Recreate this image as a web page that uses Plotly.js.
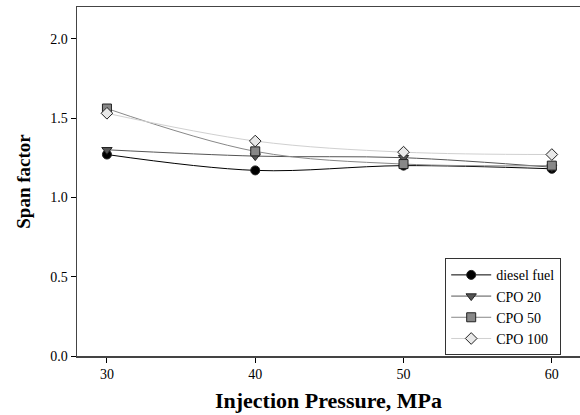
<!DOCTYPE html>
<html><head><meta charset="utf-8">
<script src="https://cdn.plot.ly/plotly-3.0.1.min.js"></script>
<style>html,body{margin:0;padding:0;background:#fff;overflow:hidden}#chart{width:580px;height:415px}</style>
</head><body><div id="chart"></div>
<script>
const pressure = [30, 40, 50, 60];
const dieselFuel = [1.27, 1.17, 1.20, 1.18];
const cpo20 = [1.30, 1.26, 1.25, 1.19];
const cpo50 = [1.56, 1.29, 1.21, 1.20];
const cpo100 = [1.53, 1.355, 1.285, 1.27];
const seriesNames = ['diesel fuel', 'CPO 20', 'CPO 50', 'CPO 100'];

const styles = [
  {line:'#000000', marker:'circle', fill:'#000000'},
  {line:'#555555', marker:'triangle-down', fill:'#555555'},
  {line:'#888888', marker:'square', fill:'#888888'},
  {line:'#d0d0d0', marker:'diamond', fill:'#e8e8e8'}
];
const values = [dieselFuel, cpo20, cpo50, cpo100];
const traces = values.map((v, i) => ({
  x: pressure, y: v, name: seriesNames[i], type: 'scatter', mode: 'lines+markers',
  line: {color: styles[i].line, width: 1, shape: 'spline'},
  marker: {symbol: styles[i].marker, color: styles[i].fill, size: 9, line: {color: '#222', width: 1}}
}));

const serif = 'Times New Roman';
const layout = {
  width: 580, height: 415,
  margin: {l: 77, r: 0, t: 7, b: 59},
  paper_bgcolor: '#fff', plot_bgcolor: '#fff',
  font: {family: serif, color: '#000', size: 14},
  showlegend: true,
  legend: {x: 0.732, y: 0.28, xanchor: 'left', yanchor: 'top', bordercolor: '#333', borderwidth: 1,
    font: {family: serif, size: 14, color: '#000'}, tracegroupgap: 0, bgcolor: '#fff', itemwidth: 40},
  xaxis: {range: [27.98, 61.9], tickvals: [30, 40, 50, 60], ticks: 'outside', ticklen: 5, tickcolor: '#000',
    showgrid: false, zeroline: false, showline: true, linecolor: '#444', linewidth: 1.5, mirror: true,
    tickfont: {family: serif, size: 14, color: '#000'},
    title: {text: '<b>Injection Pressure, MPa</b>', font: {family: serif, size: 22}, standoff: 11}},
  yaxis: {range: [0, 2.2], tickvals: [0, 0.5, 1.0, 1.5, 2.0], ticktext: ['0.0','0.5','1.0','1.5','2.0'],
    ticks: 'outside', ticklen: 5, tickcolor: '#000',
    showgrid: false, zeroline: false, showline: true, linecolor: '#444', linewidth: 1.5, mirror: true,
    tickfont: {family: serif, size: 14, color: '#000'},
    title: {text: '<b>Span factor</b>', font: {family: serif, size: 19}, standoff: 14}}
};
Plotly.newPlot('chart', traces, layout, {displayModeBar: false, staticPlot: true});
</script></body></html>
